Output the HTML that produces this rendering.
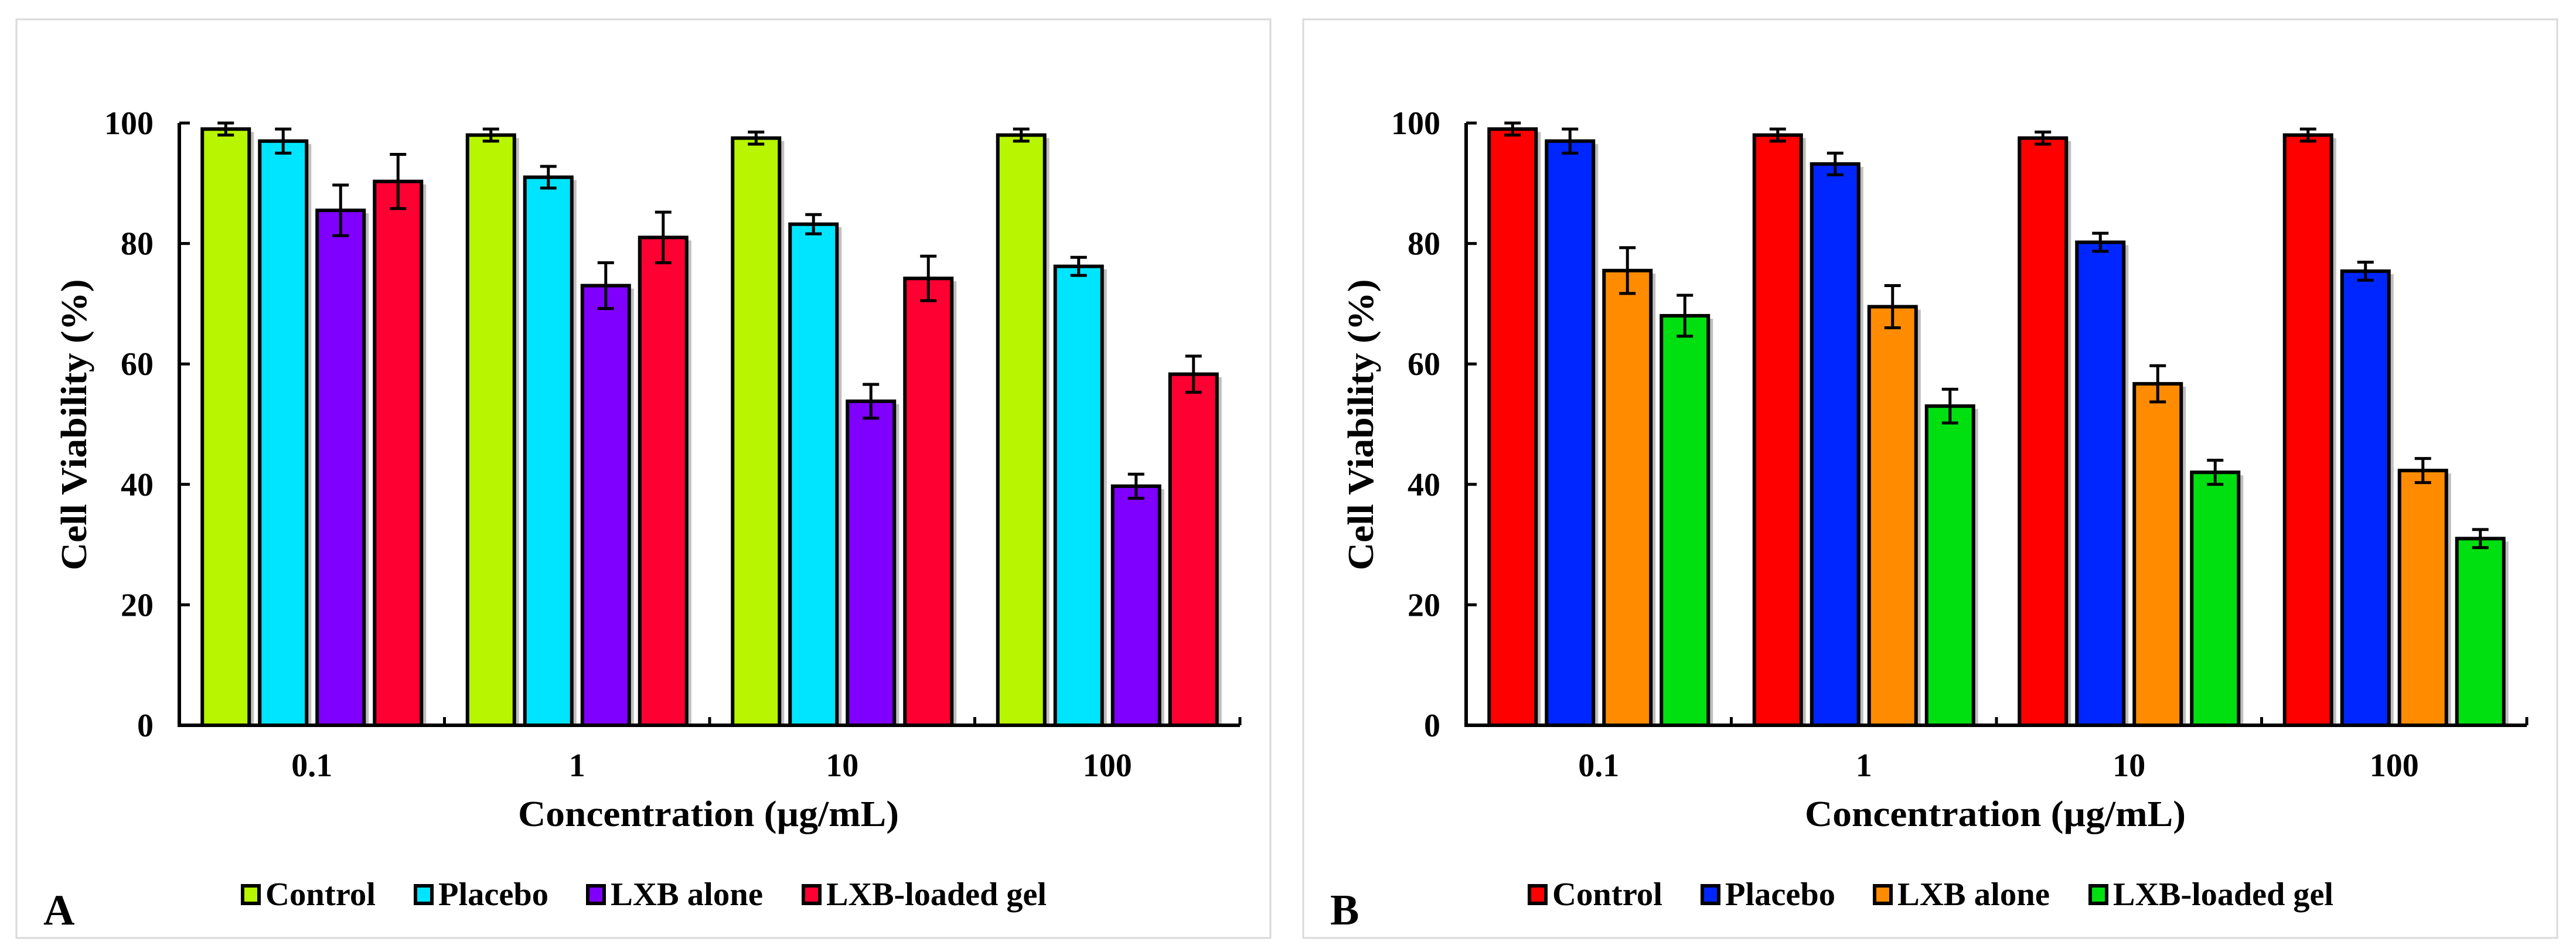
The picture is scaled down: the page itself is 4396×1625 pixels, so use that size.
<!DOCTYPE html>
<html><head><meta charset="utf-8"><style>
html,body{margin:0;padding:0;background:#fff;}
svg{display:block;font-family:"Liberation Serif",serif;font-weight:bold;}
</style></head><body>
<svg id="fig" width="4396" height="1625" viewBox="0 0 4396 1625" xmlns="http://www.w3.org/2000/svg"></svg>
<script>
const categories = ["0.1","1","10","100"];
const yTicks = [0,20,40,60,80,100];
const seriesNames = ["Control","Placebo","LXB alone","LXB-loaded gel"];
// Panel A
const aControl = [99,98,97.5,98];
const aControlErr = [1,1,1,1];
const aPlacebo = [97,91,83.2,76.2];
const aPlaceboErr = [2,1.8,1.6,1.5];
const aLxb = [85.5,73,53.8,39.7];
const aLxbErr = [4.2,3.8,2.8,2];
const aGel = [90.3,81,74.2,58.3];
const aGelErr = [4.5,4.2,3.7,3];
// Panel B
const bControl = [99,98,97.5,98];
const bControlErr = [1,1,1,1];
const bPlacebo = [97,93.2,80.2,75.4];
const bPlaceboErr = [2,1.8,1.5,1.5];
const bLxb = [75.5,69.5,56.7,42.3];
const bLxbErr = [3.8,3.5,3,2];
const bGel = [68,53,42,31];
const bGelErr = [3.4,2.8,2,1.5];

const NS="http://www.w3.org/2000/svg";
const svg=document.getElementById('fig');
function mk(tag,attrs,parent){const e=document.createElementNS(NS,tag);for(const k in attrs)e.setAttribute(k,attrs[k]);(parent||svg).appendChild(e);return e;}

function panel(ox,letter,colors,vals,errs,pname){
  const g=mk('g',{transform:'translate('+ox+',0)'});
  
  
  const fr=mk('rect',{x:28,y:33,width:2140,height:1568,fill:'none',stroke:'#d9d9d9','stroke-width':3},g);
  
  
  const X0=306,X1=2116,Y0=1238,Y100=210;
  const yS=v=>Y0-(v/100)*(Y0-Y100);
  const gw=(X1-X0)/categories.length;
  const bw=80,pitch=98;
  // bars
  for(let c=0;c<categories.length;c++){
    const gc=X0+gw*(c+0.5);
    for(let s=0;s<vals.length;s++){
      const v=vals[s][c], e=errs[s][c];
      const cx=gc+(s-1.5)*pitch;
      const x=cx-bw/2, y=yS(v);
      const sh=mk('rect',{x:x+8,y:y+5,width:bw,height:Y0-y-5,fill:'#bfbfbf'},g);
      
      
      const r=mk('rect',{x:x,y:y,width:bw,height:Y0-y,fill:colors[s],stroke:'#000','stroke-width':6},g);
      
      
      const eb=mk('path',{d:'M'+cx+' '+yS(v+e)+'V'+yS(v-e)+'M'+(cx-14)+' '+yS(v+e)+'H'+(cx+14)+'M'+(cx-14)+' '+yS(v-e)+'H'+(cx+14),stroke:'#000','stroke-width':5,fill:'none'},g);
      
      
    }
  }
  // axes
  const ax=mk('path',{d:'M'+X0+' '+Y100+'V'+Y0+'H'+X1,stroke:'#000','stroke-width':6,fill:'none'},g);
  
  
  yTicks.forEach(t=>{
    const y=yS(t);
    const tk=mk('line',{x1:X0,x2:X0+18,y1:y,y2:y,stroke:'#000','stroke-width':5},g);
    
    
    const tl=mk('text',{x:262,y:y+19,'text-anchor':'end','font-size':56},g);
    tl.textContent=t;
    
    
  });
  for(let c=1;c<=categories.length;c++){
    const x=X0+gw*c;
    const tk=mk('line',{x1:x,x2:x,y1:Y0,y2:Y0-14,stroke:'#000','stroke-width':5},g);
    
    
  }
  categories.forEach((c,i)=>{
    const t=mk('text',{x:X0+gw*(i+0.5),y:1325,'text-anchor':'middle','font-size':56},g);
    t.textContent=c;
    
    
  });
  const xt=mk('text',{x:1209,y:1410,'text-anchor':'middle','font-size':62,textLength:650,lengthAdjust:'spacingAndGlyphs'},g);
  xt.textContent='Concentration (µg/mL)';
  
  
  const yt=mk('text',{x:0,y:0,'text-anchor':'middle','font-size':62,textLength:497,lengthAdjust:'spacingAndGlyphs',transform:'translate(147,725) rotate(-90)'},g);
  yt.textContent='Cell Viability (%)';
  
  
  // legend
  const sx=[411,706,1000,1368], tx=[453,748,1042,1410], tl=[188,188,260,376];
  seriesNames.forEach((n,i)=>{
    const lg=mk('g',{},g);
    
    
    mk('rect',{x:sx[i]+3,y:1512,width:28,height:30,fill:colors[i],stroke:'#000','stroke-width':6},lg);
    const t=mk('text',{x:tx[i],y:1545,'font-size':56,textLength:tl[i],lengthAdjust:'spacingAndGlyphs'},lg);
    t.textContent=n;
  });
  const L=mk('text',{x:74,y:1578,'font-size':74},g);
  L.textContent=letter;
  
  
}
panel(0,'A',['#b8f500','#00e5ff','#7f00ff','#ff0033'],[aControl,aPlacebo,aLxb,aGel],[aControlErr,aPlaceboErr,aLxbErr,aGelErr],'panel-a');
panel(2196,'B',['#ff0000','#0026ff','#ff8c00','#00e010'],[bControl,bPlacebo,bLxb,bGel],[bControlErr,bPlaceboErr,bLxbErr,bGelErr],'panel-b');
</script>
</body></html>
